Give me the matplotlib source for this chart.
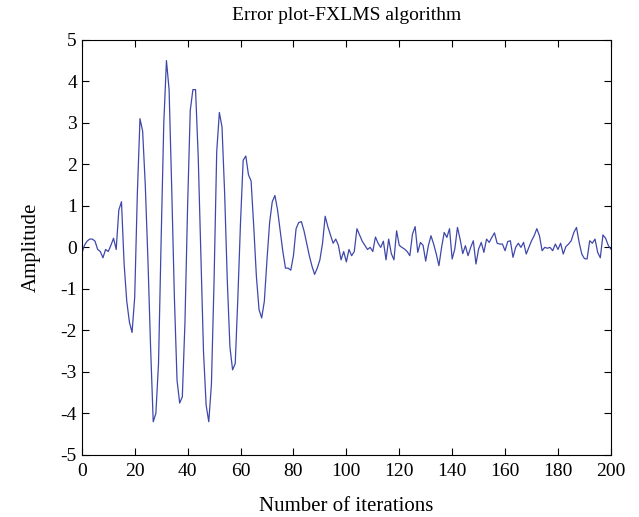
import numpy as np
import matplotlib
matplotlib.use('Agg')
import matplotlib.pyplot as plt

# error signal, one value per iteration (0..200)
err_start = [-0.15, 0.05, 0.15, 0.2, 0.2, 0.15, -0.05, -0.1, -0.25, -0.05,
             -0.1, 0.05, 0.22, -0.05, 0.9, 1.1, -0.4, -1.3, -1.8, -2.05]
err_burst = [-1.2, 1.3, 3.1, 2.8, 1.5, -0.3, -2.4, -4.2, -4.0, -2.8,
             0.2, 3.0, 4.5, 3.8, 1.4, -1.2, -3.2, -3.75, -3.6, -1.8,
             1.0, 3.3, 3.8, 3.8, 2.2, -0.2, -2.5, -3.8, -4.2, -3.3,
             -0.8, 2.3, 3.25, 2.9, 1.3, -0.8, -2.4, -2.95, -2.8, -1.2,
             0.6, 2.1, 2.2, 1.75, 1.6, 0.5, -0.7, -1.5, -1.7, -1.3,
             -0.3, 0.6, 1.1, 1.25, 0.9, 0.4, -0.1, -0.5, -0.5, -0.55]
err_decay = [-0.2, 0.45, 0.6, 0.62, 0.4, 0.1, -0.2, -0.45, -0.65, -0.5,
             -0.3, 0.1, 0.75, 0.5, 0.3, 0.1, 0.2, 0.05, -0.3, -0.1]
err_tail = [-0.35, -0.05, -0.2, -0.1, 0.45, 0.3, 0.15, 0.05, -0.05, 0.0,
            -0.1, 0.25, 0.1, 0.0, 0.15, -0.3, 0.2, -0.15, -0.3, 0.4,
            0.05, 0.0, -0.04, -0.1, -0.2, 0.32, 0.5, -0.12, 0.12, 0.05,
            -0.33, 0.04, 0.28, 0.08, -0.16, -0.44, 0.0, 0.36, 0.24, 0.45,
            -0.28, -0.04, 0.48, 0.2, -0.15, 0.04, -0.2, 0.0, 0.16, -0.4,
            -0.04, 0.12, -0.12, 0.2, 0.12, 0.24, 0.35, 0.1, 0.08, 0.08,
            -0.08, 0.14, 0.16, -0.24, 0.0, 0.1, 0.0, 0.12, -0.16, 0.0,
            0.16, 0.28, 0.45, 0.28, -0.08, 0.0, -0.02, 0.0, -0.08, 0.08,
            -0.05, 0.1, -0.16, 0.02, 0.08, 0.16, 0.36, 0.48, 0.12, -0.16,
            -0.27, -0.28, 0.16, 0.1, 0.2, -0.12, -0.25, 0.3, 0.22, 0.05,
            -0.04]

error = err_start + err_burst + err_decay + err_tail
iters = np.arange(len(error))

plt.rcParams['font.family'] = ['Liberation Serif', 'DejaVu Serif']
plt.rcParams['axes.unicode_minus'] = False

fig = plt.figure(figsize=(6.39, 5.17), dpi=100)
ax = fig.add_axes([0.128, 0.120, 0.828, 0.803])
ax.plot(iters, error, color='#3f48aa', linewidth=0.9)

ax.set_xlim(0, 200)
ax.set_ylim(-5, 5)
ax.set_xticks(np.arange(0, 201, 20))
ax.set_yticks(np.arange(-5, 6, 1))
ax.tick_params(direction='in', top=True, right=True, labelsize=14, length=5, width=0.8)
ax.tick_params(axis='x', pad=6)
for s in ax.spines.values():
    s.set_linewidth(0.8)

ax.set_title('Error plot-FXLMS algorithm', fontsize=14, pad=14)
ax.set_xlabel('Number of iterations', fontsize=15, labelpad=12)
ax.set_ylabel('Amplitude', fontsize=15, labelpad=14)

fig.savefig('out.png', dpi=100)
